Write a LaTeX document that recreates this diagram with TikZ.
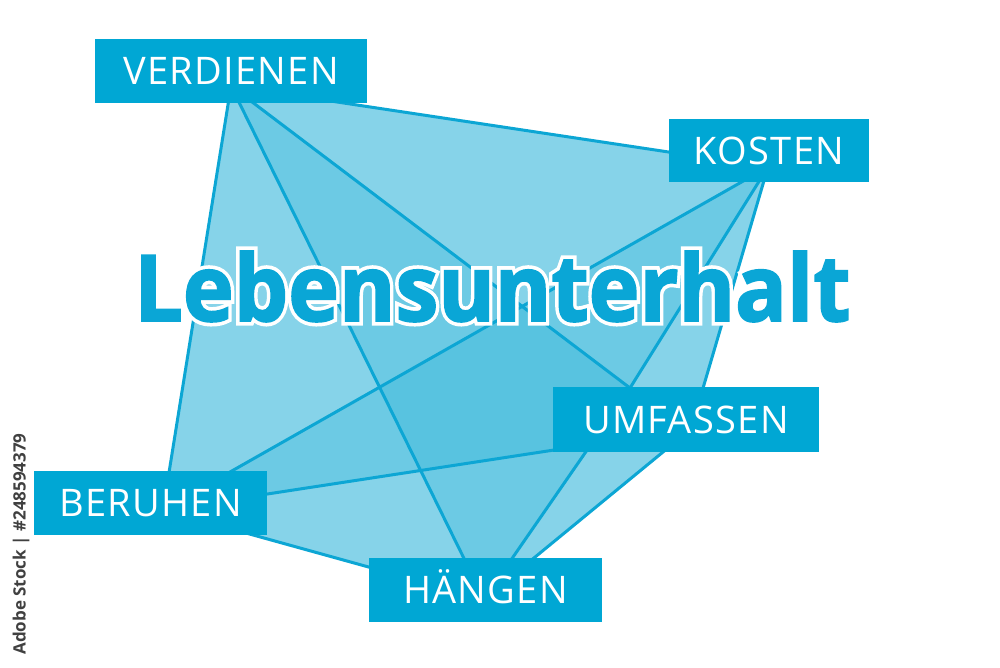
\documentclass[tikz,border=0pt]{standalone}
\usepackage{fontspec}
\setmainfont{Open Sans}
\newfontfamily\lblfont[LetterSpace=3.5]{Open Sans}
\newfontfamily\idfont{Open Sans}
\newfontfamily\ttlW[FakeBold=10]{Open Sans}
\newfontfamily\ttlC[FakeBold=2]{Open Sans}
\definecolor{boxblue}{RGB}{0,167,212}
\definecolor{edgeblue}{RGB}{12,166,212}
\definecolor{titleblue}{RGB}{10,166,214}
\definecolor{facelight}{RGB}{134,211,233}
\definecolor{facemid}{RGB}{108,202,228}
\definecolor{facedark}{RGB}{88,195,224}
\definecolor{wmgray}{RGB}{64,64,64}
\begin{document}
\begin{tikzpicture}[x=1pt,y=-1pt,
  edge/.style={draw=edgeblue,line width=3pt,line join=round},
  lbl/.style={fill=boxblue,text=white,inner sep=0pt,font=\lblfont\fontsize{38}{38}\selectfont,text height=27pt,text depth=0pt,align=center}]
\useasboundingbox (0,0) rectangle (1000,667);
\fill[white] (0,0) rectangle (1000,667);
% vertices
\coordinate (V) at (231,86);
\coordinate (K) at (768,167);
\coordinate (U1) at (630,388);
\coordinate (U2) at (691,429);
\coordinate (H) at (484,599);
\coordinate (B) at (163,510);
\coordinate (X1) at (intersection of V--H and K--B);
\coordinate (X2) at (intersection of V--U1 and K--B);
\coordinate (X3) at (intersection of V--H and B--U2);
\coordinate (X4) at (intersection of U1--H and B--U2);
% faces
\fill[facelight] (V)--(K)--(U2)--(H)--(B)--cycle;
\fill[facemid] (V)--(X1)--(X2)--cycle;
\fill[facemid] (K)--(X2)--(U1)--cycle;
\fill[facemid] (B)--(X1)--(X3)--cycle;
\fill[facemid] (X3)--(X4)--(H)--cycle;
\fill[facedark] (X1)--(X2)--(U1)--(X4)--(X3)--cycle;
% edges
\draw[edge] (V)--(K);
\draw[edge] (V)--(B);
\draw[edge] (V)--(H);
\draw[edge] (V)--(U1);
\draw[edge] (K)--(B);
\draw[edge] (K)--(U1);
\draw[edge] (K)--(U2);
\draw[edge] (U2)--(H);
\draw[edge] (U1)--(H);
\draw[edge] (B)--(U2);
\draw[edge] (B)--(H);
% label boxes
\node[lbl,minimum width=272pt,minimum height=64pt] (verd) at (231,71) {VERDIENEN};
\node[lbl,minimum width=200pt,minimum height=63pt] (kost) at (769,150.5) {KOSTEN};
\node[lbl,minimum width=266pt,minimum height=65pt] (umf) at (686,419.5) {UMFASSEN};
\node[lbl,minimum width=233pt,minimum height=64pt] (hang) at (485.5,590) {HÄNGEN};
\node[lbl,minimum width=233pt,minimum height=64pt] (beru) at (150.5,503) {BERUHEN};
% title
\node[anchor=base,inner sep=0pt,xscale=0.935,text=white,font=\ttlW\bfseries\fontsize{92}{92}\selectfont] (titleoutline) at (492.5,321) {Lebensunterhalt};
\node[anchor=base,inner sep=0pt,xscale=0.935,text=titleblue,font=\ttlC\bfseries\fontsize{92}{92}\selectfont] (title) at (titleoutline.base) {Lebensunterhalt};
% stock id
\node[rotate=90,inner sep=0pt,text=wmgray,font=\idfont\bfseries\fontsize{17}{17}\selectfont] (stockid) at (21,544) {Adobe Stock | \#248594379};
\end{tikzpicture}
\end{document}
